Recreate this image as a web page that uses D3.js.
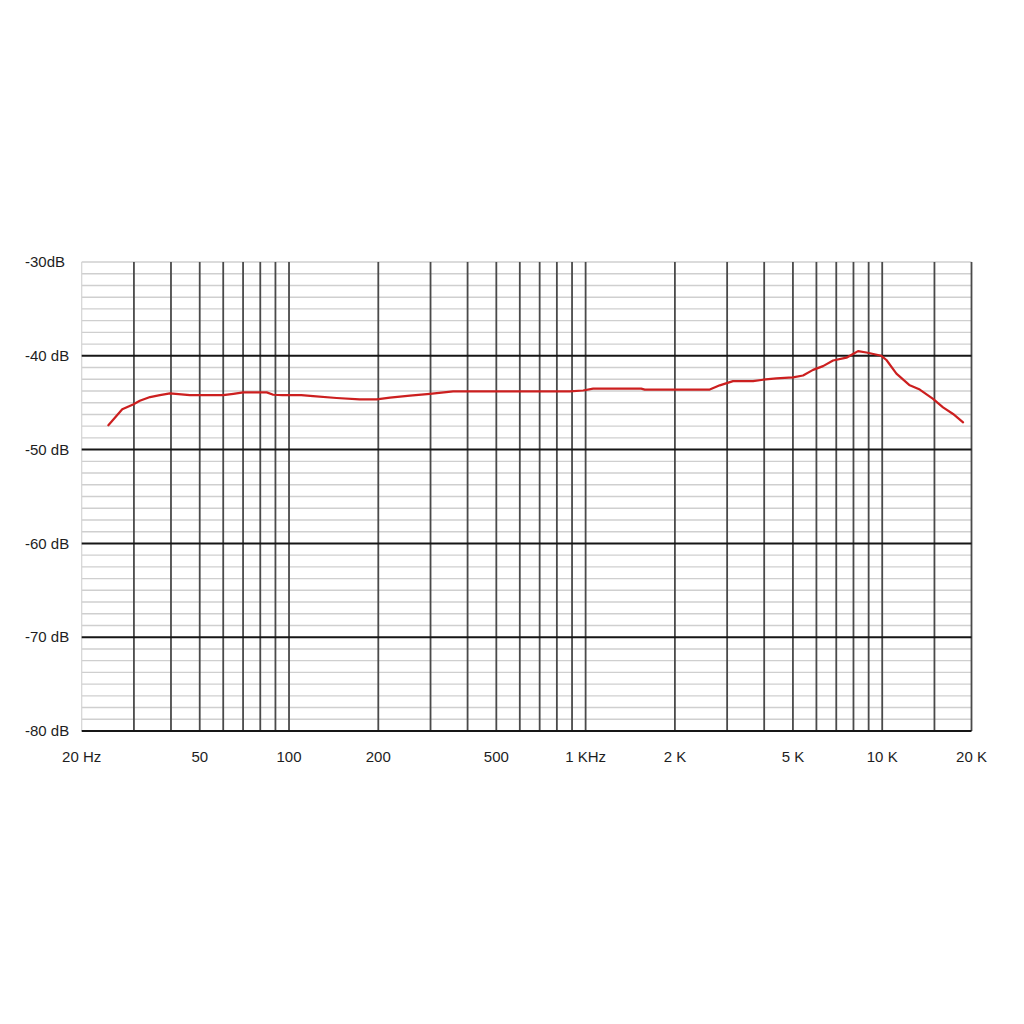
<!DOCTYPE html>
<html>
<head>
<meta charset="utf-8">
<script src="https://cdn.jsdelivr.net/npm/d3@7"></script>
<style>
  html, body { margin: 0; padding: 0; background: #ffffff; }
  svg { display: block; }
  text { font-family: "Liberation Sans", Arial, sans-serif; fill: #1e1e1e; }
</style>
</head>
<body>
<svg id="chart" width="1024" height="1024"></svg>
<script>
// ---- data ----
const freqHz = [24.6, 27.4, 29.8, 31.4, 34, 36.7, 39.7, 46.3, 60, 64.9, 70.1, 84.1, 88.5, 95, 110, 120.6, 144.7, 173, 197.4, 219, 255.8, 298.5, 357.6, 527, 884, 981, 1060, 1410, 1540, 1583, 2622, 2833, 3141, 3669, 3964, 4400, 5001, 5408, 5846, 6317, 6827, 7575, 7971, 8288, 8846, 9935, 10333, 11166, 12384, 13384, 14838, 16037, 17334, 18735];
const levelDb = [-47.4, -45.7, -45.2, -44.8, -44.4, -44.2, -44.0, -44.2, -44.2, -44.05, -43.9, -43.9, -44.15, -44.2, -44.2, -44.3, -44.5, -44.65, -44.65, -44.45, -44.25, -44.05, -43.8, -43.8, -43.8, -43.7, -43.5, -43.5, -43.5, -43.6, -43.6, -43.15, -42.7, -42.7, -42.55, -42.4, -42.3, -42.1, -41.5, -41.1, -40.5, -40.2, -39.8, -39.5, -39.65, -40.0, -40.45, -41.9, -43.15, -43.6, -44.6, -45.5, -46.2, -47.1];

const xTickValues = [20, 50, 100, 200, 500, 1000, 2000, 5000, 10000, 20000];
const xTickLabels = ["20 Hz", "50", "100", "200", "500", "1 KHz", "2 K", "5 K", "10 K", "20 K"];
const xGridValues = [30, 40, 50, 60, 70, 80, 90, 100, 200, 300, 400, 500, 600, 700, 800, 900, 1000, 2000, 3000, 4000, 5000, 6000, 7000, 8000, 9000, 10000, 15000];
const yTickValues = [-30, -40, -50, -60, -70, -80];
const yTickLabels = ["-30dB", "-40 dB", "-50 dB", "-60 dB", "-70 dB", "-80 dB"];
const yMinorStep = 1.25;

// ---- layout ----
const plotLeft = 81.7, plotRight = 971.5, plotTop = 262, plotBottom = 731;
const svg = d3.select("#chart");

const x = d3.scaleLog().domain([20, 20000]).range([plotLeft, plotRight]);
const y = d3.scaleLinear().domain([-80, -30]).range([plotBottom, plotTop]);

// minor horizontal grid
const minor = d3.range(-80, -30 + 0.001, yMinorStep).filter(v => Math.abs(v % 10) > 0.01);
svg.append("g").selectAll("line").data(minor).join("line")
  .attr("x1", plotLeft).attr("x2", plotRight)
  .attr("y1", d => y(d)).attr("y2", d => y(d))
  .attr("stroke", "#cfcfcf").attr("stroke-width", 1.4);

// top border (light)
svg.append("line").attr("x1", plotLeft).attr("x2", plotRight)
  .attr("y1", y(-30)).attr("y2", y(-30))
  .attr("stroke", "#cfcfcf").attr("stroke-width", 1.4);
// left border (light)
svg.append("line").attr("x1", x(20)).attr("x2", x(20))
  .attr("y1", y(-30)).attr("y2", y(-80))
  .attr("stroke", "#d4d4d4").attr("stroke-width", 1.2);

// vertical grid
svg.append("g").selectAll("line").data(xGridValues.concat([20000])).join("line")
  .attr("x1", d => x(d)).attr("x2", d => x(d))
  .attr("y1", y(-30)).attr("y2", y(-80))
  .attr("stroke", "#4a4a4a").attr("stroke-width", 1.8);

// major horizontal grid
svg.append("g").selectAll("line").data(yTickValues.filter(v => v !== -30)).join("line")
  .attr("x1", plotLeft).attr("x2", plotRight)
  .attr("y1", d => y(d)).attr("y2", d => y(d))
  .attr("stroke", "#161616").attr("stroke-width", 2);

// y labels
svg.append("g").selectAll("text").data(yTickValues).join("text")
  .attr("x", 25).attr("y", d => y(d))
  .attr("dy", "0.35em")
  .attr("font-size", 15)
  .text((d, i) => yTickLabels[i]);

// x labels
svg.append("g").selectAll("text").data(xTickValues).join("text")
  .attr("x", d => x(d)).attr("y", 762)
  .attr("text-anchor", "middle")
  .attr("font-size", 15)
  .text((d, i) => xTickLabels[i]);

// response curve
const pts = freqHz.map((f, i) => [f, levelDb[i]]);
const line = d3.line().x(d => x(d[0])).y(d => y(d[1]));
svg.append("path").datum(pts)
  .attr("d", line)
  .attr("fill", "none")
  .attr("stroke", "#cc1f1f")
  .attr("stroke-width", 2.2)
  .attr("stroke-linejoin", "round")
  .attr("stroke-linecap", "round");
</script>
</body>
</html>
